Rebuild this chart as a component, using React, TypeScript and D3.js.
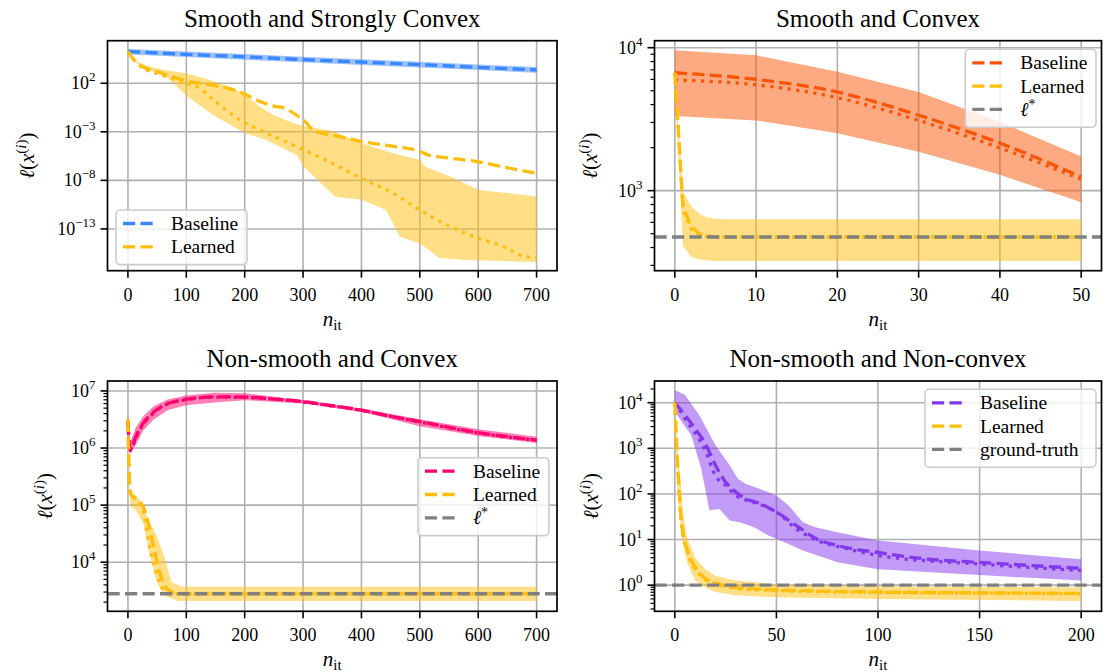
import React from "react";
import * as d3 from "d3";

const FONT = "'Liberation Serif', 'Times New Roman', serif";
const C_LEARN = "#ffbe0b";
const C_GRAY = "#808080";

// ---------------- Panel 1: Smooth and Strongly Convex ----------------
const P1_BASE_X = [0, 100, 200, 300, 400, 500, 600, 700];
const P1_BASE_MEAN = [1.78e5, 9.55e4, 5.13e4, 2.75e4, 1.51e4, 8.13e3, 4.37e3, 2.34e3];
const P1_BASE_HI = [3.4e5, 1.85e5, 1.0e5, 5.4e4, 2.95e4, 1.6e4, 8.6e3, 4.6e3];
const P1_BASE_LO = [9.2e4, 4.9e4, 2.65e4, 1.42e4, 7.7e3, 4.2e3, 2.25e3, 1.2e3];

const P1_LEARN_X = [0, 13, 25, 50, 100, 150, 200, 220, 250, 270, 288, 306, 318, 330, 362, 400, 454, 500, 515, 550, 598, 650, 700];
const P1_LEARN_MEAN = [1.78e5, 1.66e4, 5.0e3, 1.58e3, 178, 56, 7.9, 1.9, 0.45, 0.25, 0.055, 7.9e-3, 1.26e-3, 7.9e-4, 3.2e-4, 1e-4, 3.2e-5, 1e-5, 4e-6, 2e-6, 8.5e-7, 2e-7, 5.4e-8];
const P1_MED_X = [0, 13, 25, 50, 100, 118, 150, 192, 238, 283, 301, 350, 400, 454, 500, 552, 601, 650, 668, 700];
const P1_LEARN_MED = [1.78e5, 1.58e4, 4.0e3, 1.0e3, 100, 45, 1.26, 1.66e-2, 7.1e-4, 4.5e-5, 1.35e-5, 5.8e-7, 1.66e-8, 4.8e-10, 9.1e-12, 1.74e-13, 1.1e-14, 1.0e-15, 2.5e-16, 1e-16];
const P1_HI_X = [0, 13, 30, 55, 100, 141, 181, 204, 226, 249, 283, 301, 350, 400, 454, 500, 509, 552, 601, 650, 700];
const P1_LEARN_HI = [1.78e5, 2.0e4, 7.1e3, 2.8e3, 1.0e3, 219, 31, 4.2, 0.4, 0.055, 7.9e-3, 4e-3, 1.26e-3, 6.6e-5, 6.3e-6, 1.26e-6, 2.5e-7, 2.5e-8, 1.05e-9, 5e-10, 2.1e-10];
const P1_LO_X = [0, 13, 30, 50, 66, 100, 141, 181, 204, 237, 289, 301, 355, 400, 442, 466, 500, 534, 577, 700];
const P1_LEARN_LO = [1.78e5, 1.41e4, 3.55e3, 1.0e3, 479, 5.6, 8.1e-2, 3.4e-3, 6.3e-4, 1.45e-4, 4.2e-6, 2.6e-7, 2.1e-10, 1e-10, 9.1e-12, 1.6e-14, 3.2e-15, 1e-16, 6.3e-17, 4e-17];

// ---------------- Panel 2: Smooth and Convex ----------------
const P2_BASE_X = [0, 10, 20, 30, 40, 50];
const P2_BASE_MEAN = [6680, 6000, 4900, 3370, 2150, 1250];
const P2_BASE_MED = [5950, 5500, 4470, 3100, 1990, 1200];
const P2_BASE_HI = [9600, 8850, 6800, 4900, 3030, 1730];
const P2_BASE_LO = [3330, 3100, 2520, 1870, 1290, 830];
const P2_LEARN_X = [0, 1, 2, 3, 4, 5, 6, 10, 20, 30, 40, 50];
const P2_LEARN_MEAN = [6680, 780, 560, 500, 480, 475, 474, 474, 474, 474, 474, 474];
const P2_LEARN_MED = [6680, 740, 540, 490, 476, 474, 474, 474, 474, 474, 474, 474];
const P2_LEARN_HI = [7200, 990, 780, 690, 650, 635, 630, 630, 630, 630, 630, 630];
const P2_LEARN_LO = [6000, 410, 345, 330, 325, 322, 322, 322, 322, 322, 322, 322];
const P2_OPT = 474;

// ---------------- Panel 3: Non-smooth and Convex ----------------
const P3_BASE_X = [0, 4, 13.5, 26, 44, 68, 99, 148, 200, 250, 300, 350, 400, 450, 500, 550, 600, 650, 700];
const P3_BASE_MEAN = [2.82e6, 9.5e5, 1.58e6, 2.7e6, 4.27e6, 6.0e6, 7.1e6, 7.9e6, 7.8e6, 7.2e6, 6.5e6, 5.5e6, 4.6e6, 3.6e6, 2.9e6, 2.3e6, 1.86e6, 1.58e6, 1.38e6];
const P3_BMED_X = [0, 4, 13.5, 26, 44, 68, 99, 148, 200, 300, 400, 500, 600, 700];
const P3_BASE_MED = [2.8e6, 9.0e5, 1.5e6, 2.6e6, 4.1e6, 5.9e6, 7.0e6, 7.8e6, 7.7e6, 6.4e6, 4.55e6, 2.85e6, 1.84e6, 1.36e6];
const P3_BBAND_X = [0, 4, 13, 26, 44, 68, 99, 148, 200, 300, 400, 500, 600, 700];
const P3_BASE_HI = [3.98e6, 1.26e6, 2.24e6, 3.55e6, 5.4e6, 7.1e6, 8.3e6, 9.3e6, 9.1e6, 6.9e6, 4.9e6, 3.2e6, 2.14e6, 1.58e6];
const P3_BASE_LO = [2.0e6, 7.9e5, 1.12e6, 2.0e6, 3.16e6, 4.6e6, 5.6e6, 6.3e6, 6.9e6, 6.0e6, 4.3e6, 2.4e6, 1.62e6, 1.23e6];
const P3_LEARN_X = [0, 4, 13, 26, 38, 44, 53, 62, 75, 87, 200, 400, 700];
const P3_LEARN_MEAN = [3.16e6, 1.58e5, 1.32e5, 9.5e4, 3.55e4, 1.9e4, 7.4e3, 4.1e3, 3.0e3, 2.8e3, 2.8e3, 2.8e3, 2.8e3];
const P3_LMED_X = [0, 4, 13, 26, 38, 50, 62, 75, 200, 400, 700];
const P3_LEARN_MED = [3.16e6, 1.58e5, 1.26e5, 7.9e4, 1.66e4, 5.8e3, 3.2e3, 2.8e3, 2.8e3, 2.8e3, 2.8e3];
const P3_LHI_X = [0, 4, 20, 38, 50, 62, 75, 93, 700];
const P3_LEARN_HI = [3.98e6, 1.86e5, 1.23e5, 4.9e4, 2.8e4, 1.26e4, 4.4e3, 3.7e3, 3.7e3];
const P3_LLO_X = [0, 4, 13, 26, 38, 50, 62, 87, 700];
const P3_LEARN_LO = [2.0e6, 9.5e4, 8.3e4, 4.9e4, 1.26e4, 4.4e3, 2.6e3, 2.1e3, 2.1e3];
const P3_OPT = 2.8e3;

// ---------------- Panel 4: Non-smooth and Non-convex ----------------
const P4_BASE_X = [0, 5, 10, 15, 20, 25, 30, 35, 40, 50, 60, 70, 80, 100, 125, 150, 175, 200];
const P4_BASE_MEAN = [1e4, 5.4e3, 2.7e3, 1.26e3, 427, 182, 110, 78, 66, 40, 20, 10.2, 7.4, 5.2, 3.7, 3.16, 2.7, 2.34];
const P4_BMED_X = [0, 5, 15, 20, 25, 30, 35, 40, 50, 60, 70, 80, 100, 150, 200];
const P4_BASE_MED = [1e4, 4.5e3, 890, 251, 155, 93, 74, 63, 40, 17, 9.5, 7.1, 4.5, 2.9, 2.1];
const P4_BHI_X = [0, 5, 12, 20, 27, 31, 35, 42, 50, 56, 63, 69, 80, 100, 150, 200];
const P4_BASE_HI = [1.9e4, 1.48e4, 5.4e3, 1.17e3, 427, 214, 166, 129, 93, 56, 24, 18.6, 14.5, 9.5, 5.75, 3.7];
const P4_BLO_X = [0, 8, 13, 17, 22, 27, 32, 39, 46, 54, 63, 80, 100, 150, 200];
const P4_BASE_LO = [6.3e3, 1.95e3, 355, 44, 47, 26, 24, 18.6, 12.3, 8.7, 5.75, 3.16, 2.24, 1.66, 1.26];
const P4_LEARN_X = [0, 1, 2, 3, 4, 6, 8, 10, 15, 20, 30, 50, 100, 150, 200];
const P4_LEARN_MEAN = [1e4, 1e3, 158, 32, 14, 6.3, 3.55, 2.5, 1.41, 1.12, 0.89, 0.79, 0.71, 0.68, 0.66];
const P4_LEARN_MED = [1e4, 790, 126, 28, 12.6, 5.6, 3.16, 2.24, 1.32, 1.07, 0.85, 0.76, 0.69, 0.67, 0.65];
const P4_LBAND_X = [0, 1, 2, 4, 6, 10, 15, 20, 30, 50, 100, 200];
const P4_LEARN_HI = [1.26e4, 2.5e3, 500, 40, 11.2, 4.0, 2.24, 1.58, 1.26, 1.05, 0.95, 0.89];
const P4_LEARN_LO = [6.3e3, 251, 40, 7.9, 3.16, 1.26, 0.89, 0.71, 0.6, 0.54, 0.5, 0.45];
const P4_OPT = 1;

// ---------------- Labels ----------------
const TITLES = ["Smooth and Strongly Convex", "Smooth and Convex", "Non-smooth and Convex", "Non-smooth and Non-convex"];
const X_TICKS_700 = [0, 100, 200, 300, 400, 500, 600, 700];
const X_TICKS_50 = [0, 10, 20, 30, 40, 50];
const X_TICKS_200 = [0, 50, 100, 150, 200];
const Y_TICKS_P1 = [2, -3, -8, -13];
const Y_TICKS_P2 = [3, 4];
const Y_TICKS_P3 = [4, 5, 6, 7];
const Y_TICKS_P4 = [0, 1, 2, 3, 4];
const LEGEND_LABELS = ["Baseline", "Learned"];

type Pt = [number, number];
const zip = (xs: number[], ys: number[]): Pt[] => xs.map((x, i) => [x, ys[i]] as Pt);

interface Band { xHi: number[]; hi: number[]; xLo: number[]; lo: number[] }
interface Series { color: string; bandColor: string; band: Band; mean: Pt[]; median?: Pt[]; curve?: any }

interface PanelCfg {
  id: string;
  title: string;
  left: number; right: number; top: number; bottom: number;
  xDomain: [number, number]; xTicks: number[];
  yExp: [number, number]; yTicks: number[]; minor: boolean;
  series: Series[];
  opt?: number;
  legend: { x: number; y: number; w: number; third?: string };
  ylabelX: number;
}

const LW = 3.3;
const DASH = "12.2,5.3";
const DOT = "3.3,5.4";

function Panel({ cfg }: { cfg: PanelCfg }) {
  const { left, right, top, bottom } = cfg;
  const x = d3.scaleLinear().domain(cfg.xDomain).range([left, right]);
  const y = d3.scaleLog().domain([Math.pow(10, cfg.yExp[0]), Math.pow(10, cfg.yExp[1])]).range([bottom, top]);
  const line = (curve: any) => d3.line<Pt>().x(d => x(d[0])).y(d => y(d[1])).curve(curve);
  const bandPath = (b: Band) => {
    const pts = zip(b.xHi, b.hi).concat(zip(b.xLo, b.lo).reverse());
    return d3.line<Pt>().x(d => x(d[0])).y(d => y(d[1]))(pts) + "Z";
  };
  const clipId = "clip-" + cfg.id;

  const minorTicks: number[] = [];
  if (cfg.minor) {
    for (let k = Math.floor(cfg.yExp[0]); k <= Math.ceil(cfg.yExp[1]); k++) {
      for (let m = 2; m <= 9; m++) {
        const v = m * Math.pow(10, k);
        const e = Math.log10(v);
        if (e >= cfg.yExp[0] && e <= cfg.yExp[1]) minorTicks.push(v);
      }
    }
  }
  const cx = (left + right) / 2;
  const cy = (top + bottom) / 2;
  const legendRows = cfg.legend.third ? 3 : 2;
  const rowH = 23.3;
  const legH = legendRows * rowH + 8;
  const legendColors = [cfg.series[0].color, C_LEARN, C_GRAY];

  return (
    <g>
      <defs>
        <clipPath id={clipId}>
          <rect x={left} y={top} width={right - left} height={bottom - top} />
        </clipPath>
      </defs>
      {/* grid */}
      {cfg.xTicks.map(t => (
        <line key={"gx" + t} x1={x(t)} x2={x(t)} y1={top} y2={bottom} stroke="#b0b0b0" strokeWidth={1.6} />
      ))}
      {cfg.yTicks.map(t => (
        <line key={"gy" + t} x1={left} x2={right} y1={y(Math.pow(10, t))} y2={y(Math.pow(10, t))} stroke="#b0b0b0" strokeWidth={1.6} />
      ))}
      <g clipPath={`url(#${clipId})`}>
        {cfg.series.map((s, i) => (
          <g key={"s" + i}>
            <path d={bandPath(s.band)} fill={s.bandColor} stroke="none" />
            {s.median && (
              <path d={line(s.curve || d3.curveMonotoneX)(s.median) || ""} fill="none" stroke={s.color} strokeWidth={LW} strokeDasharray={DOT} />
            )}
            <path d={line(s.curve || d3.curveMonotoneX)(s.mean) || ""} fill="none" stroke={s.color} strokeWidth={LW} strokeDasharray={DASH} />
          </g>
        ))}
        {cfg.opt !== undefined && (
          <line x1={left} x2={right} y1={y(cfg.opt)} y2={y(cfg.opt)} stroke={C_GRAY} strokeWidth={LW} strokeDasharray={DASH} />
        )}
      </g>
      {/* frame */}
      <rect x={left} y={top} width={right - left} height={bottom - top} fill="none" stroke="#000" strokeWidth={1.7} />
      {/* x ticks */}
      {cfg.xTicks.map(t => (
        <g key={"xt" + t}>
          <line x1={x(t)} x2={x(t)} y1={bottom} y2={bottom + 7} stroke="#000" strokeWidth={1.6} />
          <text x={x(t)} y={bottom + 30} textAnchor="middle" fontSize={18} fontFamily={FONT} fill="#000">{t}</text>
        </g>
      ))}
      {/* y ticks */}
      {cfg.yTicks.map(t => (
        <g key={"yt" + t}>
          <line x1={left - 7} x2={left} y1={y(Math.pow(10, t))} y2={y(Math.pow(10, t))} stroke="#000" strokeWidth={1.6} />
          <text x={left - 12} y={y(Math.pow(10, t)) + 6} textAnchor="end" fontSize={18} fontFamily={FONT} fill="#000">
            <tspan>10</tspan>
            <tspan dy={-8} fontSize={13}>{t < 0 ? "\u2212" + Math.abs(t) : String(t)}</tspan>
          </text>
        </g>
      ))}
      {minorTicks.map((v, i) => (
        <line key={"mt" + i} x1={left - 4} x2={left} y1={y(v)} y2={y(v)} stroke="#000" strokeWidth={1.2} />
      ))}
      {/* title */}
      <text x={cx} y={top - 14} textAnchor="middle" fontSize={25} fontFamily={FONT} fill="#000">{cfg.title}</text>
      {/* x label */}
      <text x={cx} y={bottom + 55} textAnchor="middle" fontSize={21} fontFamily={FONT} fill="#000">
        <tspan fontStyle="italic">n</tspan>
        <tspan dy={4} fontSize={15}>it</tspan>
      </text>
      {/* y label */}
      <text transform={`translate(${cfg.ylabelX},${cy}) rotate(-90)`} textAnchor="middle" fontSize={21} fontFamily={FONT} fill="#000" dy={7}>
        <tspan fontStyle="italic">ℓ</tspan>
        <tspan>(</tspan>
        <tspan fontStyle="italic">x</tspan>
        <tspan dy={-8} fontSize={15}>(</tspan>
        <tspan fontSize={15} fontStyle="italic">i</tspan>
        <tspan fontSize={15}>)</tspan>
        <tspan dy={8}>)</tspan>
      </text>
      {/* legend */}
      <g>
        <rect x={cfg.legend.x} y={cfg.legend.y} width={cfg.legend.w} height={legH} rx={4} ry={4}
          fill="#ffffff" fillOpacity={0.8} stroke="#cccccc" strokeWidth={1.6} />
        {[...LEGEND_LABELS, ...(cfg.legend.third ? [cfg.legend.third] : [])].map((lab, i) => {
          const ry = cfg.legend.y + 13.5 + i * rowH;
          return (
            <g key={"lg" + i}>
              <line x1={cfg.legend.x + 7} x2={cfg.legend.x + 40} y1={ry} y2={ry} stroke={legendColors[i]} strokeWidth={LW} strokeDasharray={DASH} />
              <text x={cfg.legend.x + 55} y={ry + 6.5} fontSize={19.5} fontFamily={FONT} fill="#000">
                {lab === "l*" ? (
                  <>
                    <tspan fontStyle="italic">ℓ</tspan>
                    <tspan dy={-7} fontSize={14}>*</tspan>
                  </>
                ) : lab}
              </text>
            </g>
          );
        })}
      </g>
    </g>
  );
}

const PANELS: PanelCfg[] = [
  {
    id: "p1", title: TITLES[0], left: 107.5, right: 557, top: 40.7, bottom: 270.7,
    xDomain: [-35, 735], xTicks: X_TICKS_700, yExp: [-17.3, 6.38], yTicks: Y_TICKS_P1, minor: false,
    series: [
      { color: "#3a86ff", bandColor: "rgba(58,134,255,0.5)", band: { xHi: P1_BASE_X, hi: P1_BASE_HI, xLo: P1_BASE_X, lo: P1_BASE_LO }, mean: zip(P1_BASE_X, P1_BASE_MEAN) },
      { color: C_LEARN, bandColor: "rgba(255,190,11,0.5)", band: { xHi: P1_HI_X, hi: P1_LEARN_HI, xLo: P1_LO_X, lo: P1_LEARN_LO }, mean: zip(P1_LEARN_X, P1_LEARN_MEAN), median: zip(P1_MED_X, P1_LEARN_MED) },
    ],
    legend: { x: 116, y: 210, w: 131 }, ylabelX: 27,
  },
  {
    id: "p2", title: TITLES[1], left: 654.5, right: 1101.5, top: 40.7, bottom: 270.7,
    xDomain: [-2.5, 52.5], xTicks: X_TICKS_50, yExp: [2.44, 4.049], yTicks: Y_TICKS_P2, minor: true,
    series: [
      { color: "#fb5607", bandColor: "rgba(251,86,7,0.5)", band: { xHi: P2_BASE_X, hi: P2_BASE_HI, xLo: P2_BASE_X, lo: P2_BASE_LO }, mean: zip(P2_BASE_X, P2_BASE_MEAN), median: zip(P2_BASE_X, P2_BASE_MED) },
      { color: C_LEARN, bandColor: "rgba(255,190,11,0.5)", band: { xHi: P2_LEARN_X, hi: P2_LEARN_HI, xLo: P2_LEARN_X, lo: P2_LEARN_LO }, mean: zip(P2_LEARN_X, P2_LEARN_MEAN), median: zip(P2_LEARN_X, P2_LEARN_MED), curve: d3.curveLinear },
    ],
    opt: P2_OPT,
    legend: { x: 965.3, y: 49.3, w: 130.7, third: "l*" }, ylabelX: 589.5,
  },
  {
    id: "p3", title: TITLES[2], left: 107.5, right: 557, top: 381, bottom: 611.3,
    xDomain: [-35, 735], xTicks: X_TICKS_700, yExp: [3.14, 7.174], yTicks: Y_TICKS_P3, minor: true,
    series: [
      { color: "#ff006e", bandColor: "rgba(255,0,110,0.5)", band: { xHi: P3_BBAND_X, hi: P3_BASE_HI, xLo: P3_BBAND_X, lo: P3_BASE_LO }, mean: zip(P3_BASE_X, P3_BASE_MEAN), median: zip(P3_BMED_X, P3_BASE_MED) },
      { color: C_LEARN, bandColor: "rgba(255,190,11,0.5)", band: { xHi: P3_LHI_X, hi: P3_LEARN_HI, xLo: P3_LLO_X, lo: P3_LEARN_LO }, mean: zip(P3_LEARN_X, P3_LEARN_MEAN), median: zip(P3_LMED_X, P3_LEARN_MED) },
    ],
    opt: P3_OPT,
    legend: { x: 417.9, y: 457.7, w: 131, third: "l*" }, ylabelX: 44.6,
  },
  {
    id: "p4", title: TITLES[3], left: 654.5, right: 1101.5, top: 381, bottom: 611.3,
    xDomain: [-10, 210], xTicks: X_TICKS_200, yExp: [-0.573, 4.476], yTicks: Y_TICKS_P4, minor: true,
    series: [
      { color: "#8338ec", bandColor: "rgba(131,56,236,0.5)", band: { xHi: P4_BHI_X, hi: P4_BASE_HI, xLo: P4_BLO_X, lo: P4_BASE_LO }, mean: zip(P4_BASE_X, P4_BASE_MEAN), median: zip(P4_BMED_X, P4_BASE_MED) },
      { color: C_LEARN, bandColor: "rgba(255,190,11,0.5)", band: { xHi: P4_LBAND_X, hi: P4_LEARN_HI, xLo: P4_LBAND_X, lo: P4_LEARN_LO }, mean: zip(P4_LEARN_X, P4_LEARN_MEAN), median: zip(P4_LEARN_X, P4_LEARN_MED) },
    ],
    opt: P4_OPT,
    legend: { x: 925, y: 389.3, w: 171, third: "ground-truth" }, ylabelX: 591,
  },
];

export default function App() {
  return (
    <svg width={1104} height={672} viewBox="0 0 1104 672"
      style={{ position: "absolute", left: 0, top: 0, background: "#fff" }}>
      <rect x={0} y={0} width={1104} height={672} fill="#fff" />
      {PANELS.map(p => <Panel key={p.id} cfg={p} />)}
    </svg>
  );
}
